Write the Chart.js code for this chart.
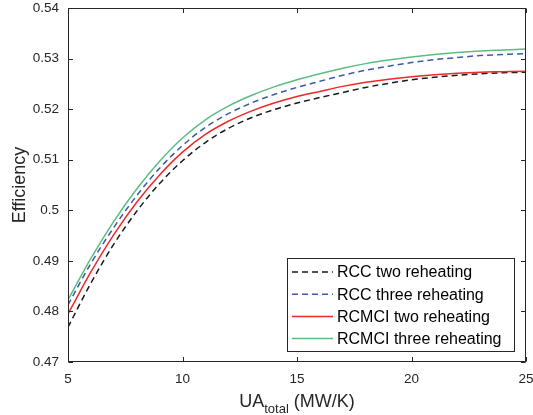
<!DOCTYPE html>
<html>
<head>
<meta charset="utf-8">
<title>Efficiency vs UA total</title>
<script src="https://cdn.jsdelivr.net/npm/chart.js@4.4.1/dist/chart.umd.min.js"></script>
<style>
  html, body { margin: 0; padding: 0; background: #fff; }
  canvas { display: block; }
</style>
</head>
<body>
<canvas id="c" width="533" height="415"></canvas>
<script>
// Total conductance UA (MW/K)
const ua = [5, 6, 7, 8, 9, 10, 11, 12, 13, 14, 15, 16, 17, 18, 19, 20, 21, 22, 23, 24, 25];

// Cycle efficiency per configuration
const rccTwo     = [0.4769, 0.4856, 0.4933, 0.4998, 0.5053, 0.5098, 0.5134, 0.5162, 0.5183, 0.5199, 0.5212, 0.5223, 0.5233, 0.5243, 0.5251, 0.5258, 0.5263, 0.5267, 0.5270, 0.5272, 0.5273];
const rccThree   = [0.4813, 0.4895, 0.4966, 0.5029, 0.5083, 0.5128, 0.5164, 0.5191, 0.5212, 0.5229, 0.5243, 0.5255, 0.5267, 0.5277, 0.5285, 0.5292, 0.5298, 0.5302, 0.5306, 0.5308, 0.5310];
const rcmciTwo   = [0.4795, 0.4878, 0.4952, 0.5016, 0.5070, 0.5115, 0.5150, 0.5176, 0.5196, 0.5212, 0.5225, 0.5235, 0.5245, 0.5253, 0.5259, 0.5264, 0.5268, 0.5271, 0.5273, 0.5274, 0.5275];
const rcmciThree = [0.4823, 0.4905, 0.4978, 0.5042, 0.5097, 0.5143, 0.5179, 0.5206, 0.5227, 0.5244, 0.5258, 0.5270, 0.5281, 0.5290, 0.5297, 0.5303, 0.5308, 0.5312, 0.5315, 0.5317, 0.5319];

const seriesLabels = ['RCC two reheating', 'RCC three reheating', 'RCMCI two reheating', 'RCMCI three reheating'];

// Axis ranges and tick spacing
const xRange = [5, 25];
const xStep = 5;
const yRange = [0.47, 0.54];
const yStep = 0.01;

const FONT = '"Liberation Sans", Arial, Helvetica, sans-serif';
const AXIS = '#262626';

function toPoints(values) {
  return values.map((v, i) => ({ x: ua[i], y: v }));
}

const styles = [
  { color: '#1a1a1a', dash: [6, 4] },
  { color: '#3d5aa8', dash: [6, 4] },
  { color: '#f02828', dash: [] },
  { color: '#5cbd80', dash: [] }
];
const seriesValues = [rccTwo, rccThree, rcmciTwo, rcmciThree];

const datasets = seriesValues.map((vals, i) => ({
  label: seriesLabels[i],
  data: toPoints(vals),
  borderColor: styles[i].color,
  borderDash: styles[i].dash,
  borderWidth: 1.5,
  pointRadius: 0,
  fill: false,
  cubicInterpolationMode: 'monotone',
  order: 3 - i
}));

// Box frame with inward ticks on all four sides, axis titles and the legend
const framePlugin = {
  id: 'frame',
  afterDatasetsDraw(chart) {
    const { ctx, chartArea: a, scales } = chart;
    const x = scales.x, y = scales.y;
    const L = a.left + 0.5, R = a.right - 0.5, T = a.top + 0.5, B = a.bottom - 0.5;
    const tl = 4.5;
    ctx.save();
    ctx.strokeStyle = AXIS;
    ctx.lineWidth = 1;
    ctx.setLineDash([]);
    ctx.strokeRect(L, T, R - L, B - T);
    ctx.beginPath();
    x.ticks.forEach(t => {
      const px = Math.round(x.getPixelForValue(t.value)) + 0.5;
      ctx.moveTo(px, B); ctx.lineTo(px, B - tl);
      ctx.moveTo(px, T); ctx.lineTo(px, T + tl);
    });
    y.ticks.forEach(t => {
      const py = Math.round(y.getPixelForValue(t.value)) + 0.5;
      ctx.moveTo(L, py); ctx.lineTo(L + tl, py);
      ctx.moveTo(R, py); ctx.lineTo(R - tl, py);
    });
    ctx.stroke();

    // x-axis title with subscript
    ctx.fillStyle = AXIS;
    ctx.textBaseline = 'alphabetic';
    ctx.textAlign = 'left';
    const mainFont = '18px ' + FONT, subFont = '13px ' + FONT;
    ctx.font = mainFont;
    const wUA = ctx.measureText('UA').width;
    const wRest = ctx.measureText(' (MW/K)').width;
    ctx.font = subFont;
    const wSub = ctx.measureText('total').width;
    const total = wUA + wSub + wRest;
    let sx = (a.left + a.right) / 2 - total / 2;
    const base = 407;
    ctx.font = mainFont;
    ctx.fillText('UA', sx, base);
    ctx.font = subFont;
    ctx.fillText('total', sx + wUA, base + 6);
    ctx.font = mainFont;
    ctx.fillText(' (MW/K)', sx + wUA + wSub, base);

    // y-axis title
    ctx.save();
    ctx.translate(25, (a.top + a.bottom) / 2);
    ctx.rotate(-Math.PI / 2);
    ctx.textAlign = 'center';
    ctx.font = '18px ' + FONT;
    ctx.fillText('Efficiency', 0, 0);
    ctx.restore();

    // legend
    const bx = 287.5, by = 258.5, bw = 227, bh = 93;
    ctx.fillStyle = '#ffffff';
    ctx.fillRect(bx, by, bw, bh);
    ctx.strokeStyle = AXIS;
    ctx.lineWidth = 1;
    ctx.strokeRect(bx, by, bw, bh);
    ctx.font = '16px ' + FONT;
    ctx.textBaseline = 'middle';
    ctx.textAlign = 'left';
    chart.data.datasets.forEach((ds, i) => {
      const ry = 272 + i * 22.2;
      ctx.strokeStyle = ds.borderColor;
      ctx.lineWidth = 1.5;
      ctx.setLineDash(ds.borderDash);
      ctx.beginPath();
      ctx.moveTo(292, ry);
      ctx.lineTo(333, ry);
      ctx.stroke();
      ctx.setLineDash([]);
      ctx.fillStyle = '#000000';
      ctx.fillText(ds.label, 337, ry + 1);
    });
    ctx.restore();
  }
};

new Chart(document.getElementById('c'), {
  type: 'line',
  data: { datasets },
  options: {
    responsive: false,
    animation: false,
    devicePixelRatio: 1,
    layout: { padding: { top: 8, right: 7, left: 0, bottom: 0 } },
    plugins: { legend: { display: false }, tooltip: { enabled: false } },
    scales: {
      x: {
        type: 'linear',
        min: xRange[0], max: xRange[1],
        ticks: {
          stepSize: xStep,
          color: AXIS,
          font: { family: FONT, size: 13.5 },
          padding: 9,
          maxRotation: 0
        },
        grid: { display: false, drawTicks: false },
        border: { display: false },
        afterFit(s) { s.height = 53; s.paddingLeft = 0; s.paddingRight = 0; }
      },
      y: {
        type: 'linear',
        min: yRange[0], max: yRange[1],
        ticks: {
          stepSize: yStep,
          color: AXIS,
          font: { family: FONT, size: 13.5 },
          padding: 9,
          callback: v => String(parseFloat(v.toFixed(2)))
        },
        grid: { display: false, drawTicks: false },
        border: { display: false },
        afterFit(s) { s.width = 68; s.paddingTop = 0; s.paddingBottom = 0; }
      }
    }
  },
  plugins: [framePlugin]
});
</script>
</body>
</html>
